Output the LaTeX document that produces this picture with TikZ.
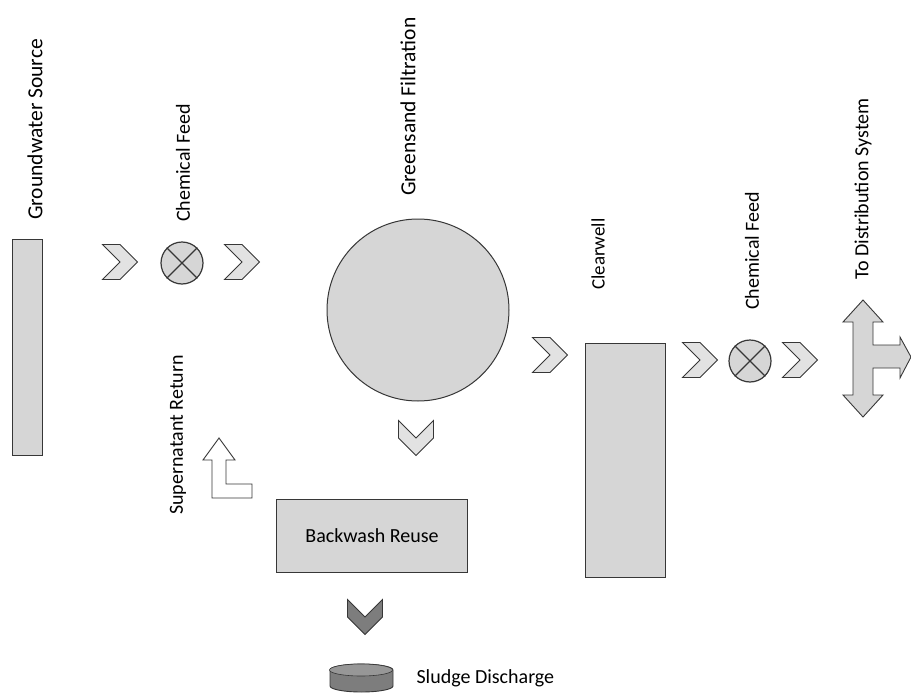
\documentclass[tikz,border=0pt]{standalone}
\usepackage{fontspec}
\setmainfont{Carlito}
\definecolor{tankgray}{RGB}{214, 214, 214}
\definecolor{chevgray}{RGB}{226, 226, 226}
\definecolor{darkgray1}{RGB}{125, 125, 125}
\definecolor{edgegray}{RGB}{55, 55, 55}
\usetikzlibrary{shapes.geometric, shapes.symbols, positioning, calc}

\tikzset{
  tank/.style={draw=edgegray, fill=tankgray, line width=1pt},
  chevron/.style={signal, signal from=west, signal to=east, draw=edgegray, fill=chevgray,
    line width=0.9pt, minimum width=35pt, minimum height=35pt, inner sep=0pt},
  downchevron/.style={chevron, rotate=-90},
  mixer/.style={circle, draw=edgegray, fill=tankgray, line width=1.2pt, minimum size=42pt, inner sep=0pt},
  vlabel/.style={rotate=90, anchor=west, inner sep=0pt, font=\fontsize{20}{24}\selectfont}
}

\begin{document}
\begin{tikzpicture}[x=1pt, y=-1pt]
  \useasboundingbox (0,0) rectangle (911,696);

  % Source and first feed
  \node[tank, minimum width=30pt, minimum height=216pt] (source) at (27,347) {};
  \node[vlabel, font=\fontsize{21.5}{25}\selectfont] (sourcelbl) at (35,220) {Groundwater Source};
  \node[chevron] (ch1) at (120,262) {};
  \node[mixer] (mix1) at (182,263) {};
  \draw[edgegray, line width=1.2pt] (mix1.north west) -- (mix1.south east) (mix1.north east) -- (mix1.south west);
  \node[vlabel] (mix1lbl) at (183,222) {Chemical Feed};
  \node[chevron] (ch2) at (242,262) {};

  % Filter
  \node[circle, tank, minimum size=182pt] (filter) at (418,310) {};
  \node[vlabel, font=\fontsize{21.5}{25}\selectfont] (filterlbl) at (408,196) {Greensand Filtration};
  \node[downchevron] (dn1) at (416,438) {};

  % Backwash
  \node[tank, minimum width=191pt, minimum height=73pt, font=\fontsize{20}{24}\selectfont] (backwash) at (372,536) {Backwash Reuse};
  \draw[edgegray, fill=white, line width=0.9pt] (219,438) -- (235,460) -- (226,460) -- (226,484) -- (252,484)
    -- (252,498) -- (212,498) -- (212,460) -- (203,460) -- cycle;
  \node[vlabel] (returnlbl) at (178,515) {Supernatant Return};
  \node[downchevron, fill=darkgray1] (dn2) at (365,617) {};
  \coordinate (sludge) at (361,678);
  \draw[edgegray, fill=darkgray1, line width=0.9pt] (330,670) -- (330,686) arc[start angle=180, end angle=0, x radius=31.5, y radius=6]
    -- (393,670) arc[start angle=0, end angle=-180, x radius=31.5, y radius=6] -- cycle;
  \draw[edgegray, fill=darkgray1!80, line width=0.6pt] (361,670) ellipse[x radius=31.5, y radius=6];
  \node[right=52pt of sludge, anchor=west, font=\fontsize{20}{24}\selectfont] (sludgelbl) {Sludge Discharge};

  % Clearwell and second feed
  \node[chevron] (ch3) at (550,355) {};
  \node[tank, minimum width=80pt, minimum height=234pt] (clearwell) at (625,460) {};
  \node[vlabel, font=\fontsize{19}{23}\selectfont] (clearlbl) at (598,290) {Clearwell};
  \node[chevron] (ch4) at (700,360) {};
  \node[mixer] (mix2) at (750,361) {};
  \draw[edgegray, line width=1.2pt] (mix2.north west) -- (mix2.south east) (mix2.north east) -- (mix2.south west);
  \node[vlabel] (mix2lbl) at (752,310) {Chemical Feed};
  \node[chevron] (ch5) at (800,360) {};

  % Distribution
  \draw[edgegray, fill=tankgray, line width=0.9pt] (863,300) -- (883,322) -- (873,322) -- (873,345) -- (900,345)
    -- (900,337) -- (911,357) -- (900,378) -- (900,368) -- (873,368) -- (873,395) -- (883,395) -- (863,417)
    -- (843,395) -- (853,395) -- (853,322) -- (843,322) -- cycle;
  \node[vlabel] (distlbl) at (863,280) {To Distribution System};
\end{tikzpicture}
\end{document}
